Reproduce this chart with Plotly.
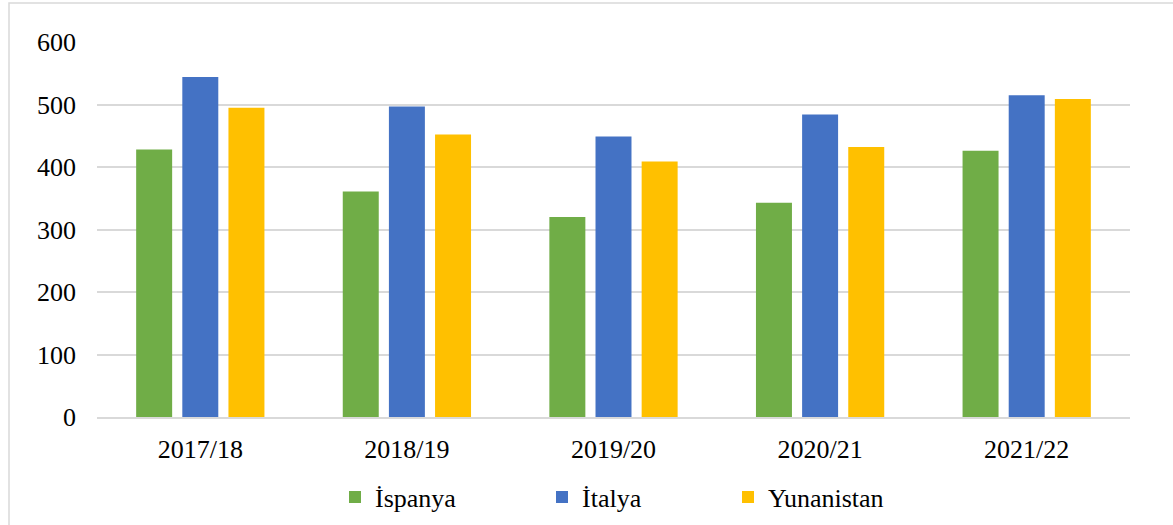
import plotly.graph_objects as go

categories = ["2017/18", "2018/19", "2019/20", "2020/21", "2021/22"]
ispanya = [428, 361, 320, 343, 426]
italya = [544, 497, 449, 484, 515]
yunanistan = [495, 452, 409, 432, 509]

series = [
    ("İspanya", ispanya, "#70AD47", "legend"),
    ("İtalya", italya, "#4472C4", "legend2"),
    ("Yunanistan", yunanistan, "#FFC000", "legend3"),
]

font_family = "Liberation Serif"
FS = 26

fig = go.Figure()
for name, vals, color, lg in series:
    fig.add_trace(go.Bar(
        x=categories, y=vals, name=name, legend=lg,
        marker=dict(color=color, line=dict(width=0)),
    ))

L, R, T, B = 97, 43, 42, 108
PW = 1173 - L - R
PH = 525 - T - B


def legend_at(px_center_symbol):
    return dict(
        orientation="h", x=(px_center_symbol - 20 - L) / PW, xanchor="left",
        y=(417 - 497) / PH, yanchor="middle",
        font=dict(family=font_family, size=FS, color="#000000"),
        bgcolor="rgba(0,0,0,0)", borderwidth=0,
    )


fig.update_layout(
    width=1173, height=525,
    paper_bgcolor="white", plot_bgcolor="white",
    margin=dict(l=L, r=R, t=T, b=B, autoexpand=False),
    barmode="group", bargap=0.33, bargroupgap=0.22,
    font=dict(family=font_family, size=FS, color="#000000"),
    showlegend=True,
    legend=legend_at(355),
    legend2=legend_at(562),
    legend3=legend_at(748),
    xaxis=dict(
        showgrid=False, showline=True, linecolor="#D9D9D9", linewidth=1.5,
        ticks="", tickfont=dict(family=font_family, size=FS, color="#000000"),
        ticklabelstandoff=8, automargin=False,
    ),
    yaxis=dict(
        range=[0, 600], dtick=100, showgrid=True, gridcolor="#D9D9D9",
        gridwidth=1.5, zeroline=False, showline=False, ticks="",
        tickfont=dict(family=font_family, size=FS, color="#000000"),
        ticklabelstandoff=20, automargin=False,
    ),
    shapes=[
        dict(type="rect", xref="paper", yref="paper",
             x0=(9 - L) / PW, x1=1.2, y0=-0.5, y1=(417 - 3) / PH,
             line=dict(color="#D9D9D9", width=1.5), fillcolor="rgba(0,0,0,0)",
             layer="below"),
    ],
)

fig.write_html(
    "out.html",
    config={"displayModeBar": False},
    post_script="document.body.style.margin='0px';document.body.style.overflow='hidden';",
)
